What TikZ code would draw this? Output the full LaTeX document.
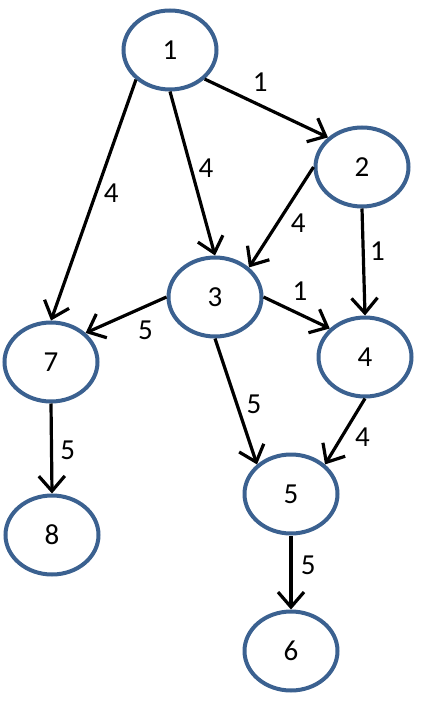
\documentclass[tikz,border=0pt]{standalone}
\usepackage{fontspec}
\setmainfont{Carlito}
\usepackage{tikz}
\usetikzlibrary{positioning}
\usetikzlibrary{shapes.geometric, arrows.meta}
\definecolor{nodeblue}{HTML}{3B6190}
\tikzstyle{arrow} = [line width=3.2pt,-{Straight Barb[length=15pt,width=26pt]}]

\begin{document}
\begin{tikzpicture}[
    			x = 1pt, y = -1pt, thick,
    			every node/.style = {font = \fontsize{29}{33}\selectfont, inner sep = 0pt},
    			vertex/.style = {draw = nodeblue, ellipse, line width = 4pt, minimum width = 93pt, minimum height = 79pt}
  			]
  				\useasboundingbox (0,0) rectangle (425,703);

  				\node[vertex] (N1) at (170,50)  {1};
  				\node[vertex] (N2) at (362,167) {2};
  				\node[vertex] (N3) at (215,297) {3};
  				\node[vertex] (N4) at (365,357) {4};
  				\node[vertex] (N5) at (291,494) {5};
  				\node[vertex] (N6) at (291,651) {6};
  				\node[vertex] (N7) at (51,362)  {7};
  				\node[vertex] (N8) at (52,535)  {8};

  				% Edges
  				\draw[arrow] (N1.-40)   -- (N2.139);
  				\draw[arrow] (N1.south) -- (N3.north);
  				\draw[arrow] (N1.-139)  -- (N7.north);
  				\draw[arrow] (N2.west)  -- (N3.41);
  				\draw[arrow] (N2.south) -- (N4.north);
  				\draw[arrow] (N3.east)  -- (N4.141);
  				\draw[arrow] (N3.west)  -- (N7.40);
  				\draw[arrow] (N3.south) -- (N5.139);
  				\draw[arrow] (N4.south) -- (N5.41);
  				\draw[arrow] (N7.south) -- (N8.north);
  				\draw[arrow] (N5.south) -- (N6.north);

  				% Labels
  				\begin{scope}[nodes = {draw = none}]
    				\path (N1.-40)   -- (N2.139)   node [pos=.45, above=13pt]  {1};
    				\path (N1.south) -- (N3.north) node [pos=.47, right=7pt]   {4};
    				\path (N1.-139)  -- (N7.north) node [pos=.47, right=7.5pt] {4};
    				\path (N2.west)  -- (N3.41)    node [pos=.56, right=13pt]  {4};
    				\path (N2.south) -- (N4.north) node [pos=.4, right=6.5pt]  {1};
    				\path (N3.east)  -- (N4.141)   node [pos=.55, above=13pt]  {1};
    				\path (N3.west)  -- (N7.40)    node [pos=.26, below=14.5pt] {5};
    				\path (N3.south) -- (N5.139)   node [pos=.52, right=9.5pt] {5};
    				\path (N4.south) -- (N5.41)    node [pos=.58, right=13pt]  {4};
    				\path (N7.south) -- (N8.north) node [pos=.52, right=8.5pt] {5};
    				\path (N5.south) -- (N6.north) node [pos=.4, right=9.5pt]  {5};
  				\end{scope}
\end{tikzpicture}
\end{document}
